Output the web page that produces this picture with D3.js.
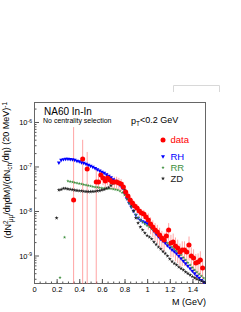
<!DOCTYPE html>
<html>
<head>
<meta charset="utf-8">
<script src="https://cdn.jsdelivr.net/npm/d3@7"></script>
<style>
  body { margin: 0; background: #fff; }
  svg { display: block; font-family: "Liberation Sans", Arial, sans-serif; }
</style>
</head>
<body>
<svg id="chart" width="241" height="312"></svg>
<script>
// mass grid for the model curves (GeV)
var massGrid = [0.22, 0.24, 0.26, 0.28, 0.30, 0.32, 0.34, 0.36, 0.38, 0.40,
  0.42, 0.44, 0.46, 0.48, 0.50, 0.52, 0.54, 0.56, 0.58, 0.60,
  0.62, 0.64, 0.66, 0.68, 0.70, 0.72, 0.74, 0.76, 0.78, 0.80,
  0.82, 0.84, 0.86, 0.88, 0.90, 0.92, 0.94, 0.96, 0.98, 1.00,
  1.02, 1.04, 1.06, 1.08, 1.10, 1.12, 1.14, 1.16, 1.18, 1.20,
  1.22, 1.24, 1.26, 1.28, 1.30, 1.32, 1.34, 1.36, 1.38, 1.40,
  1.42, 1.44, 1.46, 1.48, 1.50, 1.52];

var rhValues = [1.22e-7, 1.40e-7, 1.45e-7, 1.475e-7, 1.475e-7, 1.46e-7, 1.44e-7, 1.40e-7, 1.34e-7, 1.30e-7,
  1.24e-7, 1.20e-7, 1.14e-7, 1.08e-7, 1.03e-7, 9.74e-8, 9.11e-8, 8.56e-8, 8.04e-8, 7.52e-8,
  7.14e-8, 6.61e-8, 6.12e-8, 5.66e-8, 5.10e-8, 4.72e-8, 4.26e-8, 3.84e-8, 3.29e-8, 2.54e-8,
  1.91e-8, 1.51e-8, 1.23e-8, 1.00e-8, 8.13e-9, 6.96e-9, 6.28e-9, 5.81e-9, 5.51e-9, 5.24e-9,
  4.85e-9, 4.15e-9, 3.55e-9, 3.04e-9, 2.67e-9, 2.35e-9, 2.12e-9, 1.91e-9, 1.68e-9, 1.51e-9,
  1.36e-9, 1.23e-9, 1.11e-9, 9.75e-10, 8.56e-10, 7.52e-10, 6.61e-10, 5.81e-10, 5.10e-10, 4.48e-10,
  3.94e-10, 3.46e-10, 3.12e-10, 2.81e-10, 2.54e-10, 2.29e-10];

var rrValues = [null, null, null, null, 4.72e-8, 4.60e-8, 4.48e-8, 4.37e-8, 4.26e-8, 4.15e-8,
  4.04e-8, 3.94e-8, 3.84e-8, 3.74e-8, 3.65e-8, 3.55e-8, 3.46e-8, 3.41e-8, 3.34e-8, 3.29e-8,
  3.24e-8, 3.20e-8, 3.20e-8, 3.17e-8, 3.12e-8, 3.04e-8, 2.96e-8, 2.81e-8, 2.60e-8, 2.29e-8,
  1.86e-8, 1.51e-8, 1.23e-8, 1.00e-8, 8.34e-9, 7.14e-9, 6.28e-9, 5.66e-9, 5.10e-9, 4.72e-9,
  4.37e-9, 3.94e-9, 3.55e-9, 3.20e-9, 2.89e-9, 2.60e-9, 2.35e-9, 2.12e-9, 1.91e-9, 1.72e-9,
  1.55e-9, 1.40e-9, 1.26e-9, 1.14e-9, 1.03e-9, 9.02e-10, 7.93e-10, 6.97e-10, 6.12e-10, 5.37e-10,
  4.72e-10, 4.26e-10, 3.84e-10, 3.46e-10, 3.12e-10, 2.89e-10];

var zdValues = [2.96e-8, 3.04e-8, 3.20e-8, 3.20e-8, 3.12e-8, 3.07e-8, 3.00e-8, 2.93e-8, 2.89e-8, 2.84e-8,
  2.81e-8, 2.77e-8, 2.74e-8, 2.71e-8, 2.71e-8, 2.74e-8, 2.77e-8, 2.81e-8, 2.86e-8, 2.96e-8,
  3.04e-8, 3.20e-8, 3.37e-8, 3.74e-8, 4.15e-8, 4.48e-8, 4.48e-8, 4.15e-8, 3.65e-8, 2.96e-8,
  2.29e-8, 1.77e-8, 1.36e-8, 1.00e-8, 6.96e-9, 5.37e-9, 4.37e-9, 3.74e-9, 3.20e-9, 2.81e-9,
  2.60e-9, 2.35e-9, 2.01e-9, 1.77e-9, 1.55e-9, 1.40e-9, 1.23e-9, 1.11e-9, 9.75e-10, 8.34e-10,
  7.33e-10, 6.61e-10, 6.12e-10, 5.51e-10, 5.10e-10, 4.72e-10, 4.26e-10, 3.94e-10, 3.65e-10, 3.37e-10,
  3.12e-10, 2.96e-10, 2.81e-10, 2.67e-10, 2.54e-10, 2.41e-10];

// stray low-mass points below the curves
var rrLowMass = [0.23, 0.27];
var rrLowValues = [3.20e-10, 2.56e-9];
var zdLowMass = [0.20];
var zdLowValues = [6.96e-9];

// NA60 data with errors
var dataMass = [0.35, 0.43, 0.47, 0.55, 0.57, 0.59, 0.61, 0.63, 0.65, 0.67,
  0.69, 0.71, 0.73, 0.75, 0.77, 0.79, 0.81, 0.83, 0.85, 0.87,
  0.89, 0.91, 0.93, 0.95, 0.97, 0.99, 1.01, 1.03, 1.05, 1.07,
  1.09, 1.11, 1.13, 1.15, 1.17, 1.19, 1.21, 1.23, 1.25, 1.27,
  1.29, 1.31, 1.33, 1.35, 1.37, 1.39, 1.41, 1.43, 1.45, 1.47, 1.49];
var dataValues = [1.77e-8, 1.48e-7, 8.8e-8, 4.5e-8, 4.49e-8, 6.44e-8, 5.51e-8, 4.72e-8, 5.51e-8, 4.97e-8,
  4.48e-8, 4.48e-8, 4.48e-8, 4.26e-8, 4.04e-8, 3.46e-8, 2.67e-8, 2.17e-8, 1.77e-8, 1.51e-8,
  1.30e-8, 1.17e-8, 1.00e-8, 9.02e-9, 8.56e-9, 7.33e-9, 6.28e-9, 5.10e-9, 4.37e-9, 3.74e-9,
  3.37e-9, 2.89e-9, 2.47e-9, 2.23e-9, 2.74e-9, 3.74e-9, 1.91e-9, 2.01e-9, 1.64e-9, 1.47e-9,
  1.20e-9, 1.33e-9, 1.33e-9, 1.20e-9, 1.72e-9, 9.75e-10, 8.79e-10, 6.78e-10, 7.14e-10, 7.93e-10, 5.24e-10];
var dataErrors = [7.5e-7, 2.5e-7, 1.24e-7, 5.0e-8, 1.4e-8, 2.0e-8, 1.7e-8, 1.5e-8, 1.7e-8, 1.5e-8,
  1.4e-8, 1.4e-8, 1.4e-8, 1.3e-8, 1.2e-8, 1.0e-8, 6e-9, 5e-9, 4e-9, 3.4e-9,
  3.0e-9, 2.7e-9, 2.3e-9, 2.1e-9, 2.0e-9, 1.8e-9, 2.5e-9, 2.1e-9, 1.8e-9, 1.6e-9,
  1.5e-9, 1.3e-9, 1.1e-9, 1.0e-9, 1.2e-9, 1.6e-9, 1.0e-9, 1.1e-9, 9e-10, 8e-10,
  6.5e-10, 7.5e-10, 7.5e-10, 6.5e-10, 9.5e-10, 5.5e-10, 5e-10, 4e-10, 4e-10, 4.5e-10, 3e-10];

var xTicks = [0, 0.2, 0.4, 0.6, 0.8, 1.0, 1.2, 1.4];
var xTickLabels = ["0", "0.2", "0.4", "0.6", "0.8", "1", "1.2", "1.4"];
var yDecades = [1e-9, 1e-8, 1e-7, 1e-6];
var yTickExponents = ["-9", "-8", "-7", "-6"];

var legendLabels = ["data", "RH", "RR", "ZD"];
var legendColors = ["#ff0000", "#0000ff", "#3d8f3d", "#222222"];

var svg = d3.select("#chart");

var x = d3.scaleLinear().domain([0, 1.52]).range([34, 206]);
var y = d3.scaleLog().domain([2.29e-10, 2.81e-6]).range([284, 102]);

svg.append("defs").append("clipPath")
  .attr("id", "clip")
  .append("rect")
  .attr("x", 34).attr("y", 102)
  .attr("width", 172).attr("height", 182);

// faint box above the frame
svg.append("path")
  .attr("d", "M173.5,92V85.5H219.5V92")
  .attr("fill", "none")
  .attr("stroke", "#d8d8d8");

// x axis
var xMinor = d3.range(0, 1.52, 0.05);
svg.append("g")
  .attr("class", "axis")
  .attr("transform", "translate(0,284)")
  .call(d3.axisBottom(x).tickValues(xMinor).tickSize(-2.5).tickSizeOuter(0).tickFormat(""));
svg.append("g")
  .attr("class", "axis")
  .attr("transform", "translate(0,284)")
  .call(d3.axisBottom(x).tickValues(xTicks).tickSize(-5).tickSizeOuter(0).tickPadding(3)
    .tickFormat(function (d, i) { return xTickLabels[i]; }));

// y axis
var yMinor = [];
yDecades.concat([1e-10]).forEach(function (dec) {
  for (var k = 2; k <= 9; k++) {
    var v = k * dec;
    if (v > y.domain()[0] && v < y.domain()[1]) yMinor.push(v);
  }
});
svg.append("g")
  .attr("class", "axis")
  .attr("transform", "translate(34,0)")
  .call(d3.axisLeft(y).tickValues(yMinor).tickSize(-2.5).tickSizeOuter(0).tickFormat(""));
var yAx = svg.append("g")
  .attr("class", "axis")
  .attr("transform", "translate(34,0)")
  .call(d3.axisLeft(y).tickValues(yDecades).tickSize(-5).tickSizeOuter(0).tickPadding(6).tickFormat(""));
yAx.selectAll(".tick text").each(function (d, i) {
  var t = d3.select(this);
  t.append("tspan").text("10");
  t.append("tspan").attr("dy", "-0.45em").attr("font-size", "5px").text(yTickExponents[i]);
});

svg.selectAll(".axis .domain").remove();
svg.selectAll(".axis line").attr("stroke", "#555");
svg.selectAll(".axis text").attr("font-size", "7.5px").attr("fill", "#000").attr("font-family", null);
yAx.selectAll(".tick text").attr("x", -2).attr("dy", "0.35em");

// frame
svg.append("rect")
  .attr("x", 34.5).attr("y", 102.5)
  .attr("width", 171).attr("height", 181)
  .attr("fill", "none")
  .attr("stroke", "#666");

var plot = svg.append("g").attr("clip-path", "url(#clip)");

// data error bars
var bottomY = y.range()[0];
plot.selectAll(".err")
  .data(dataMass)
  .enter().append("line")
  .attr("class", "err")
  .attr("x1", function (d) { return x(d); })
  .attr("x2", function (d) { return x(d); })
  .attr("y1", function (d, i) { return y(dataValues[i] + dataErrors[i]); })
  .attr("y2", function (d, i) {
    var lo = dataValues[i] - dataErrors[i];
    return lo > 0 ? y(lo) : bottomY;
  })
  .attr("stroke", "#ff5a5a")
  .attr("stroke-opacity", 0.55)
  .attr("stroke-width", 1);

var triangleDown = d3.symbol().type(d3.symbolTriangle).size(7);
var bigStar = d3.symbol().type(d3.symbolStar).size(5);
var smallStar = d3.symbol().type(d3.symbolStar).size(3.5);

function drawPoints(values, mass, symbolPath, color, rotate) {
  var pts = [];
  values.forEach(function (v, i) { if (v !== null) pts.push([mass[i], v]); });
  plot.append("g").selectAll("path")
    .data(pts)
    .enter().append("path")
    .attr("d", symbolPath)
    .attr("fill", color)
    .attr("transform", function (d) {
      return "translate(" + x(d[0]) + "," + y(d[1]) + ")" + (rotate ? " rotate(180)" : "");
    });
}

drawPoints(rhValues, massGrid, triangleDown, legendColors[1], true);
drawPoints(rrValues, massGrid, smallStar, legendColors[2], false);
drawPoints(rrLowValues, rrLowMass, smallStar, legendColors[2], false);
drawPoints(zdValues, massGrid, bigStar, legendColors[3], false);
drawPoints(zdLowValues, zdLowMass, bigStar, legendColors[3], false);

plot.selectAll(".dot")
  .data(dataMass)
  .enter().append("circle")
  .attr("class", "dot")
  .attr("cx", function (d) { return x(d); })
  .attr("cy", function (d, i) { return y(dataValues[i]); })
  .attr("r", 2.5)
  .attr("fill", "#ff0000");

// texts
svg.append("text").attr("x", 44).attr("y", 114.5)
  .attr("font-size", "10px").text("NA60 In-In");
svg.append("text").attr("x", 43).attr("y", 122.5)
  .attr("font-size", "7px").text("No centrality selection");

var pt = svg.append("text").attr("x", 131).attr("y", 124).attr("font-size", "9px");
pt.append("tspan").text("p");
pt.append("tspan").attr("dy", "0.3em").attr("font-size", "6.5px").text("T");
pt.append("tspan").attr("dy", "-0.3em").text("<0.2 GeV");

// legend
var legendY = [140, 156.5, 167.5, 178.5];
var legendSymbols = [null, triangleDown, smallStar, bigStar];
legendLabels.forEach(function (lab, i) {
  if (i === 0) {
    svg.append("circle").attr("cx", 163).attr("cy", legendY[i]).attr("r", 2.5).attr("fill", legendColors[i]);
  } else {
    svg.append("path").attr("d", legendSymbols[i])
      .attr("fill", legendColors[i])
      .attr("transform", "translate(163," + legendY[i] + ")" + (i === 1 ? " rotate(180)" : ""));
  }
  svg.append("text")
    .attr("x", 170.5).attr("y", legendY[i]).attr("dy", "0.36em")
    .attr("font-size", "9.5px")
    .attr("fill", legendColors[i])
    .text(lab);
});

// axis titles
svg.append("text")
  .attr("x", 206).attr("y", 305)
  .attr("text-anchor", "end")
  .attr("font-size", "9px")
  .text("M (GeV)");

var yt = svg.append("text")
  .attr("transform", "translate(11,102) rotate(-90)")
  .attr("text-anchor", "end")
  .attr("font-size", "9px");
yt.append("tspan").text("(dN");
yt.append("tspan").attr("dy", "-0.4em").attr("font-size", "6.5px").text("2");
yt.append("tspan").attr("dy", "0.75em").attr("dx", "-0.3em").attr("font-size", "6.5px").text("μμ");
yt.append("tspan").attr("dy", "-0.35em").text("/dηdM)/(dN");
yt.append("tspan").attr("dy", "0.35em").attr("font-size", "6.5px").text("ch");
yt.append("tspan").attr("dy", "-0.35em").text("/dη) (20 MeV)");
yt.append("tspan").attr("dy", "-0.4em").attr("font-size", "6.5px").text("-1");
</script>
</body>
</html>
